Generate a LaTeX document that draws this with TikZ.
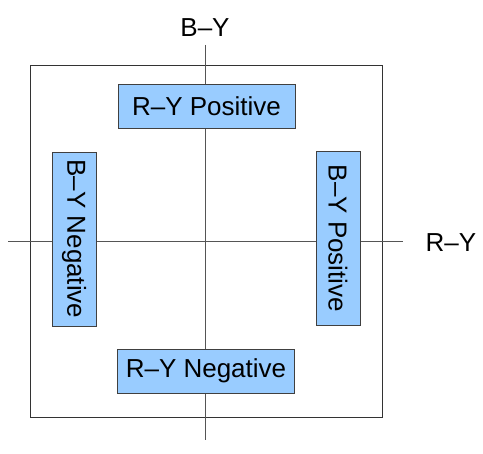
\documentclass[tikz,border=0pt]{standalone}
\usepackage{fontspec}
\setmainfont{Liberation Sans}
\usetikzlibrary{positioning}
\definecolor{boxblue}{HTML}{99CCFF}
\definecolor{axisgray}{HTML}{555555}
\tikzset{
quadbox/.style={draw=black!75, fill=boxblue, inner sep=0pt, font=\fontsize{26}{30}\selectfont}, % the four blue boxes
flatbox/.style={quadbox, minimum width=177pt, minimum height=44pt}, % top and bottom
sidebox/.style={quadbox, rotate=-90, minimum width=174pt, minimum height=44pt}, % left and right
axis/.style={draw=axisgray, line width=0.8pt}, % the two axes
axislabel/.style={font=\fontsize{26}{30}\selectfont, inner sep=0pt}, % B-Y and R-Y
}
\begin{document}
\begin{tikzpicture}[x=1pt, y=-1pt]
  \useasboundingbox (0,0) rectangle (483,454);
  % frame
  \draw[black!80, line width=0.8pt] (30,65) rectangle (382,417);
  % axes
  \coordinate (top) at (205,45);
  \coordinate (bottom) at (205,440);
  \coordinate (left) at (8,241);
  \coordinate (right) at (403,241);
  \draw[axis] (top) -- (bottom);
  \draw[axis] (left) -- (right);
  \node[axislabel] (by) at (205,28) {B--Y};
  \node[axislabel] (ry) at (451,243) {R--Y};
  % boxes
  \node[flatbox] (rypos) at (206.5,106) {R--Y Positive};
  \node[flatbox] (ryneg) at (206,371) {R--Y Negative};
  \node[sidebox] (byneg) at (74,239) {B--Y Negative};
  \node[sidebox] (bypos) at (338,238.5) {B--Y Positive};
\end{tikzpicture}
\end{document}
